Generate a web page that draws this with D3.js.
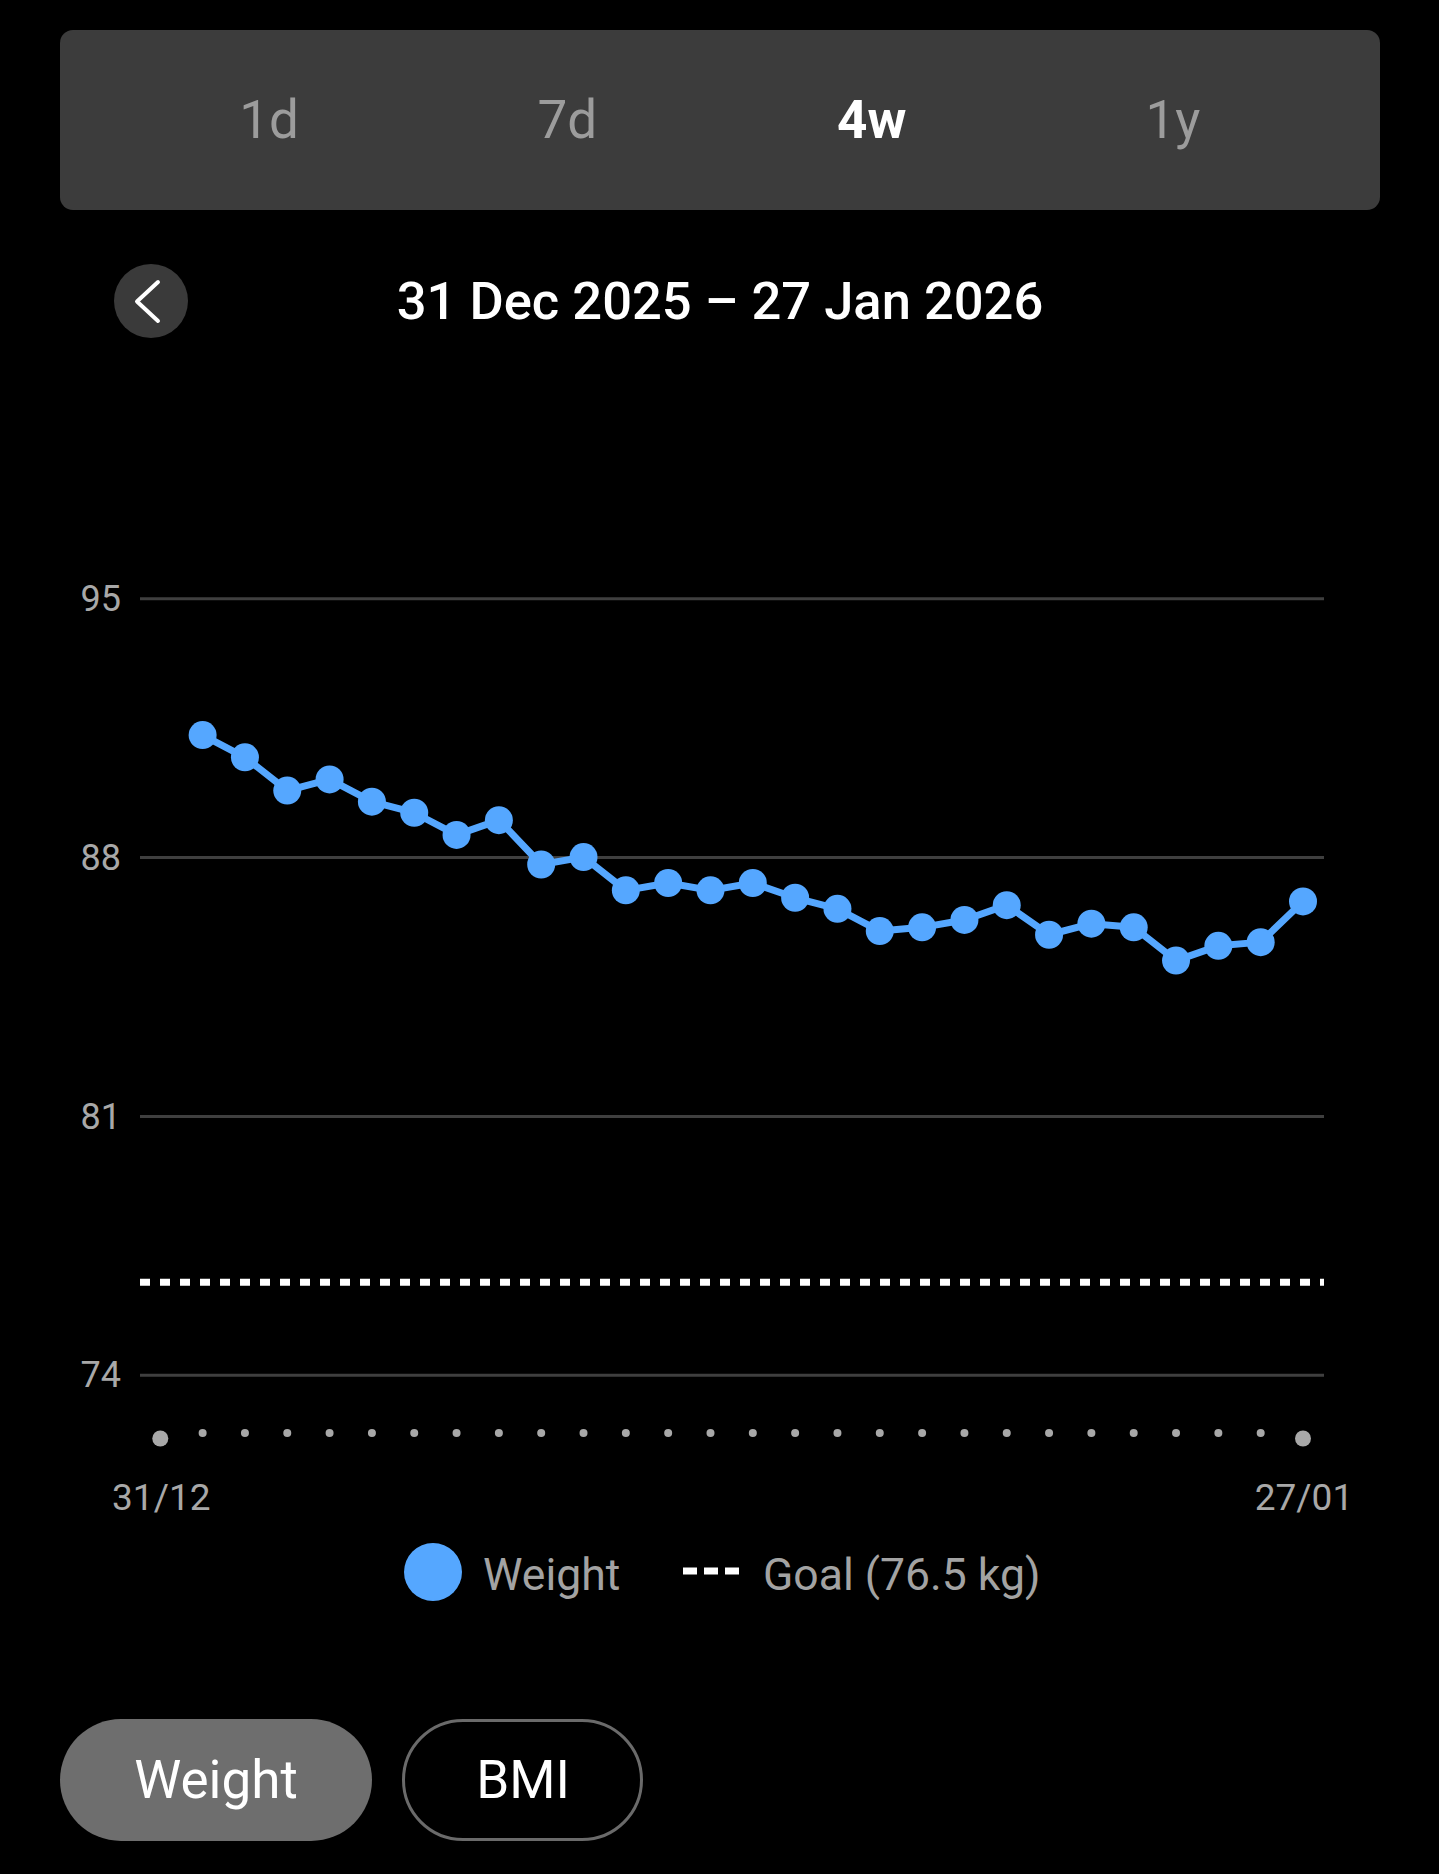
<!DOCTYPE html>
<html>
<head>
<meta charset="utf-8">
<script src="https://cdn.jsdelivr.net/npm/d3@7"></script>
<style>
  html, body { margin: 0; background: #000; }
  svg { display: block; font-family: Roboto, "Noto Sans", sans-serif; }
</style>
</head>
<body>
<script>
// period tabs
const tabs = ['1d', '7d', '4w', '1y'];
const activeTab = '4w';
const rangeTitle = '31 Dec 2025 \u2013 27 Jan 2026';

// x domain: first and last day of the 4w window
const startDay = '2025-12-31';
const endDay = '2026-01-27';
const xLabels = ['31/12', '27/01'];

// daily weights (kg)
const weighDays = [
  '2026-01-01', '2026-01-02', '2026-01-03', '2026-01-04', '2026-01-05', '2026-01-06', '2026-01-07',
  '2026-01-08', '2026-01-09', '2026-01-10', '2026-01-11', '2026-01-12', '2026-01-13', '2026-01-14',
  '2026-01-15', '2026-01-16', '2026-01-17', '2026-01-18', '2026-01-19', '2026-01-20', '2026-01-21',
  '2026-01-22', '2026-01-23', '2026-01-24', '2026-01-25', '2026-01-26', '2026-01-27'
];
const weights = [
  91.3, 90.7, 89.8, 90.1, 89.5, 89.2, 88.6,
  89.0, 87.8, 88.0, 87.1, 87.3, 87.1, 87.3,
  86.9, 86.6, 86.0, 86.1, 86.3, 86.7, 85.9,
  86.2, 86.1, 85.2, 85.6, 85.7, 86.8
];
const goal = 76.5;
const yTicks = [74, 81, 88, 95];
const buttons = ['Weight', 'BMI'];

const width = 1439;
const height = 1874;
const blue = '#55a7ff';

const svg = d3.select('body').append('svg')
    .attr('width', width)
    .attr('height', height);

// tab bar
svg.append('rect')
    .attr('x', 60).attr('y', 30)
    .attr('width', 1320).attr('height', 180)
    .attr('rx', 13)
    .attr('fill', '#3c3c3c');

const tabX = d3.scalePoint().domain(tabs).range([269, 1173]);
svg.selectAll('.tab')
    .data(tabs)
    .enter()
    .append('text')
    .attr('class', 'tab')
    .attr('x', d => tabX(d) - (d === '7d' ? 3 : 0))
    .attr('y', 138)
    .attr('text-anchor', 'middle')
    .attr('font-size', 53)
    .attr('font-weight', d => d === activeTab ? 700 : 400)
    .attr('fill', d => d === activeTab ? '#ffffff' : '#9c9c9c')
    .text(d => d);

// back button + title
svg.append('circle')
    .attr('cx', 151).attr('cy', 301).attr('r', 37)
    .attr('fill', '#3a3a3a');
svg.append('path')
    .attr('d', 'M158,282 L137,301.5 L158,321')
    .attr('fill', 'none')
    .attr('stroke', '#fff')
    .attr('stroke-width', 4)
    .attr('stroke-linecap', 'round')
    .attr('stroke-linejoin', 'round');
svg.append('text')
    .attr('x', 720).attr('y', 319)
    .attr('text-anchor', 'middle')
    .attr('font-size', 52.5)
    .attr('font-weight', 500)
    .attr('fill', '#fff')
    .text(rangeTitle);

// scales
const x = d3.scaleUtc()
    .domain([new Date(startDay), new Date(endDay)])
    .range([160.3, 1303]);
const y = d3.scaleLinear()
    .domain([74, 95])
    .range([1374.7, 598.3]);

// grid + y labels
const yAxis = svg.append('g')
    .attr('transform', 'translate(140,0)')
    .call(d3.axisLeft(y).tickValues(yTicks).tickSize(-1184).tickPadding(19));
yAxis.select('.domain').remove();
yAxis.selectAll('.tick line')
    .attr('stroke', '#3f3f3f')
    .attr('stroke-width', 3);
yAxis.selectAll('.tick text')
    .attr('fill', '#a8a8a8')
    .attr('font-size', 36)
    .attr('font-family', 'Roboto, sans-serif')
    .attr('dy', '0.34em');

// goal line
svg.append('line')
    .attr('x1', 140).attr('x2', 1324)
    .attr('y1', y(goal)).attr('y2', y(goal))
    .attr('stroke', '#fff')
    .attr('stroke-width', 7)
    .attr('stroke-dasharray', '10 10');

// day dots along x
const allDays = d3.utcDay.range(new Date(startDay), d3.utcDay.offset(new Date(endDay), 1));
const lastIdx = allDays.length - 1;
svg.append('g')
    .selectAll('circle')
    .data(allDays)
    .enter()
    .append('circle')
    .attr('cx', d => x(d))
    .attr('cy', (d, i) => (i === 0 || i === lastIdx) ? 1438.5 : 1433)
    .attr('r', (d, i) => (i === 0 || i === lastIdx) ? 8 : 4)
    .attr('fill', '#a8a8a8');

svg.append('g')
    .selectAll('text')
    .data([startDay, endDay])
    .enter()
    .append('text')
    .attr('x', d => x(new Date(d)) + 1)
    .attr('y', 1510)
    .attr('text-anchor', 'middle')
    .attr('font-size', 37)
    .attr('fill', '#a8a8a8')
    .text((d, i) => xLabels[i]);

// weight line + points
const pts = weighDays.map((d, i) => ({ date: new Date(d), value: weights[i] }));
svg.append('path')
    .datum(pts)
    .attr('fill', 'none')
    .attr('stroke', blue)
    .attr('stroke-width', 7)
    .attr('stroke-linejoin', 'round')
    .attr('d', d3.line().x(d => x(d.date)).y(d => y(d.value)));
svg.append('g')
    .selectAll('circle')
    .data(pts)
    .enter()
    .append('circle')
    .attr('cx', d => x(d.date))
    .attr('cy', d => y(d.value))
    .attr('r', 14)
    .attr('fill', blue);

// legend
svg.append('circle')
    .attr('cx', 433).attr('cy', 1572).attr('r', 29)
    .attr('fill', blue);
svg.append('text')
    .attr('x', 483).attr('y', 1590)
    .attr('font-size', 44.5)
    .attr('fill', '#a3a3a3')
    .text('Weight');
svg.append('line')
    .attr('x1', 683).attr('x2', 739)
    .attr('y1', 1571).attr('y2', 1571)
    .attr('stroke', '#fff')
    .attr('stroke-width', 7)
    .attr('stroke-dasharray', '14 7');
svg.append('text')
    .attr('x', 763).attr('y', 1590)
    .attr('font-size', 44.5)
    .attr('fill', '#a3a3a3')
    .text(`Goal (${goal} kg)`);

// bottom toggle buttons
const btn = svg.append('g');
btn.append('rect')
    .attr('x', 60).attr('y', 1719)
    .attr('width', 312).attr('height', 122)
    .attr('rx', 61)
    .attr('fill', '#6e6e6e');
btn.append('rect')
    .attr('x', 403.5).attr('y', 1720.5)
    .attr('width', 238).attr('height', 119)
    .attr('rx', 59.5)
    .attr('fill', 'none')
    .attr('stroke', '#6a6a6a')
    .attr('stroke-width', 3);
btn.selectAll('text')
    .data(buttons)
    .enter()
    .append('text')
    .attr('x', (d, i) => i === 0 ? 216 : 523)
    .attr('y', 1798)
    .attr('text-anchor', 'middle')
    .attr('font-size', 53)
    .attr('fill', '#fff')
    .text(d => d);
</script>
</body>
</html>
